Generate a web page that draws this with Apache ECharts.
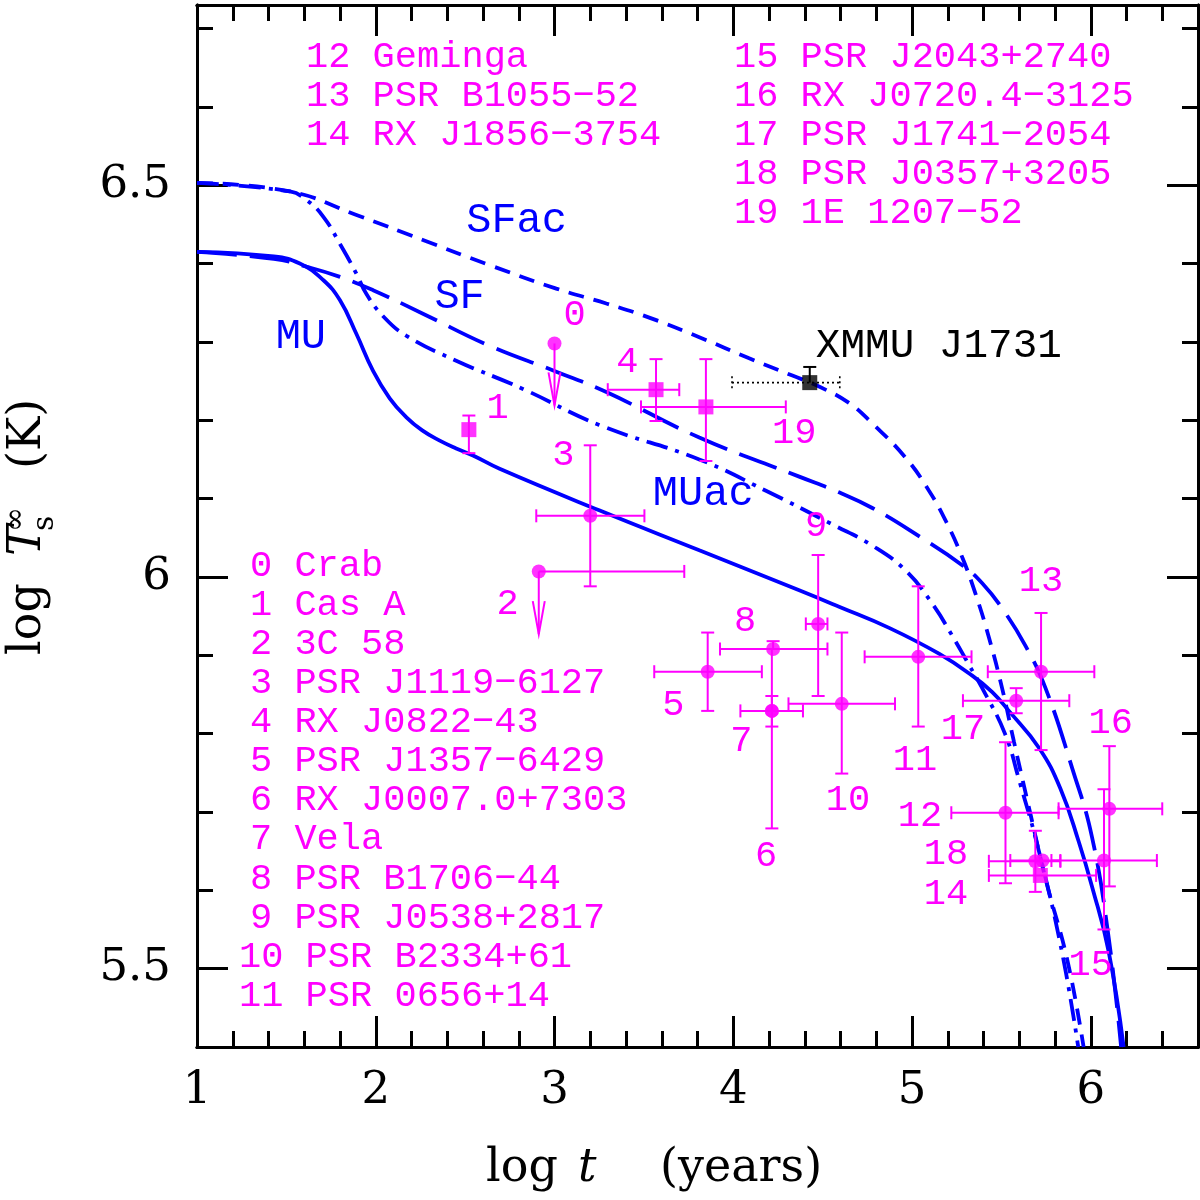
<!DOCTYPE html>
<html><head><meta charset="utf-8">
<script src="https://cdn.jsdelivr.net/npm/echarts@6/dist/echarts.min.js"></script>
<style>html,body{margin:0;padding:0;background:#fff}#c{width:1200px;height:1200px}</style>
</head><body><div id="c"></div>
<script>
// ---------- axis ticks ----------
const xMajorTicks = [1, 2, 3, 4, 5, 6];
const xMinorTicks = [1.2, 1.4, 1.6, 1.8, 2.2, 2.4, 2.6, 2.8, 3.2, 3.4, 3.6, 3.8, 4.2, 4.4, 4.6, 4.8, 5.2, 5.4, 5.6, 5.8, 6.2, 6.4];
const yMajorTicks = [5.5, 6, 6.5];
const yMinorTicks = [5.6, 5.7, 5.8, 5.9, 6.1, 6.2, 6.3, 6.4, 6.6, 6.7];

// ---------- cooling curves [log t, log Ts] ----------
const curveMU = [[1.0,6.415],[1.43,6.409],[1.575,6.40],[1.706,6.379],[1.8,6.353],[1.892,6.31],[1.985,6.263],[2.078,6.228],[2.17,6.204],[2.26,6.187],[2.358,6.174],[2.45,6.164],[2.544,6.155],[2.693,6.138],[3.25,6.085],[3.81,6.034],[4.369,5.983],[4.592,5.962],[4.872,5.935],[5.151,5.902],[5.337,5.874],[5.449,5.853],[5.542,5.829],[5.71,5.782],[5.83,5.73],[5.933,5.662],[6.007,5.605],[6.1,5.522],[6.184,5.40]];
const curveSF = [[1.0,6.415],[1.43,6.406],[1.613,6.396],[1.8,6.383],[1.985,6.366],[2.264,6.336],[2.637,6.295],[3.01,6.262],[3.29,6.236],[3.81,6.178],[4.369,6.128],[4.592,6.108],[4.778,6.088],[5.039,6.052],[5.281,6.015],[5.393,5.992],[5.504,5.96],[5.635,5.912],[5.747,5.858],[5.896,5.756],[6.007,5.668],[6.1,5.54],[6.17,5.40]];
const curveSFac = [[1.0,6.503],[1.52,6.492],[1.892,6.462],[2.264,6.43],[2.637,6.398],[3.01,6.368],[3.29,6.349],[3.53,6.331],[3.81,6.306],[4.089,6.279],[4.331,6.257],[4.48,6.243],[4.648,6.222],[4.778,6.196],[4.965,6.152],[5.095,6.11],[5.188,6.072],[5.281,6.025],[5.356,5.978],[5.43,5.923],[5.504,5.858],[5.57,5.79],[5.66,5.70],[5.75,5.612],[5.87,5.51],[5.96,5.40]];
const curveMUac = [[1.0,6.503],[1.52,6.492],[1.613,6.481],[1.706,6.46],[1.8,6.425],[1.892,6.387],[1.948,6.361],[2.04,6.333],[2.17,6.308],[2.45,6.276],[2.823,6.24],[3.25,6.194],[3.81,6.15],[4.183,6.11],[4.555,6.067],[4.778,6.04],[4.965,6.008],[5.113,5.966],[5.225,5.925],[5.318,5.888],[5.393,5.858],[5.52,5.80],[5.6,5.74],[5.71,5.65],[5.84,5.52],[5.93,5.40]];

// ---------- observed neutron stars (0..19, last = second point near 18) ----------
const starX  = [3.0, 2.521, 2.912, 3.2, 3.568, 3.857, 4.216, 4.216, 4.223, 4.475, 4.607, 5.035, 5.523, 5.722, 5.718, 6.074, 6.104, 5.583, 5.69, 3.847, 5.73];
const starY  = [6.298, 6.188, 6.007, 6.078, 6.239, 5.879, 5.829, 5.829, 5.908, 5.94, 5.838, 5.898, 5.699, 5.879, 5.619, 5.638, 5.704, 5.842, 5.637, 6.217, 5.638];
const starXLo = [null, null, null, 2.898, 3.298, 3.558, null, 4.04, 3.926, 4.406, 4.309, 4.735, 5.22, 5.424, 5.43, 5.78, 5.82, 5.285, 5.43, 3.484, 5.55];
const starXHi = [null, null, 3.726, 3.503, 3.698, 4.16, null, 4.39, 4.527, 4.527, 4.905, 5.333, 5.82, 6.02, 6.03, 6.37, 6.40, 5.88, 5.83, 4.294, 5.83];
const starYLo = [null, 6.158, null, 5.988, 6.199, 5.829, 5.679, 5.809, null, 5.848, 5.749, 5.809, 5.609, 5.779, null, 5.55, 5.605, 5.826, 5.598, 6.148, null];
const starYHi = [null, 6.206, null, 6.168, 6.278, 5.929, 5.908, 5.848, 5.918, 6.028, 5.929, 5.988, 5.789, 5.954, null, 5.729, 5.784, 5.858, 5.676, 6.278, null];
const starMarker = ['circle','square','circle','circle','square','circle','circle','circle','circle','circle','circle','circle','circle','circle','square','circle','circle','circle','circle','square','circle'];
const upperLimitTip = [6.219, null, 5.927, null, null, null, null, null, null, null, null, null, null, null, null, null, null, null, null, null, null];

// XMMU J1731
const xmmuX = [4.428];
const xmmuY = [6.248];
const xmmuXLo = [3.993];
const xmmuXHi = [4.596];
const xmmuYHi = [6.268];

// ---------- texts ----------
const numLabelText = ['0','1','2','3','4','5','6','7','8','9','10','11','12','13','14','15','16','17','18','19'];
const numLabelX = [3.112, 2.682, 2.737, 3.050, 3.408, 3.665, 4.184, 4.045, 4.067, 4.464, 4.642, 5.017, 5.045, 5.721, 5.190, 6.0, 6.112, 5.285, 5.190, 4.341];
const numLabelY = [6.334, 6.215, 5.965, 6.155, 6.274, 5.836, 5.643, 5.790, 5.944, 6.065, 5.715, 5.766, 5.694, 5.995, 5.595, 5.505, 5.813, 5.806, 5.646, 6.184];

const curveLabelText = ['SFac', 'SF', 'MU', 'MUac'];
const curveLabelX = [2.788, 2.469, 1.581, 3.832];
const curveLabelY = [6.455, 6.357, 6.306, 6.106];

const listLeftBottom = ['0 Crab','1 Cas A','2 3C 58','3 PSR J1119\u22126127','4 RX J0822\u221243','5 PSR J1357\u22126429','6 RX J0007.0+7303','7 Vela','8 PSR B1706\u221244','9 PSR J0538+2817','10 PSR B2334+61','11 PSR 0656+14'];
const listLeftTop = ['12 Geminga','13 PSR B1055\u221252','14 RX J1856\u22123754'];
const listRightTop = ['15 PSR J2043+2740','16 RX J0720.4\u22123125','17 PSR J1741\u22122054','18 PSR J0357+3205','19 1E 1207\u221252'];

// ---------- styles ----------
const PINK = '#ff00ff';
const BLUE = '#0000ff';
const MONO = "'Liberation Mono', 'DejaVu Sans Mono', monospace";
const SERIF = "'DejaVu Serif', serif";
const CAP = 6.5;

const chart = echarts.init(document.getElementById('c'), null, {renderer: 'canvas'});

function mkX(pos, ticks, len, labels) {
  return {
    type: 'value', min: 1, max: 6.6, position: pos,
    axisLine: {show: true, onZero: false, lineStyle: {color: '#000', width: 3}},
    splitLine: {show: false},
    axisTick: {show: true, inside: true, length: len, customValues: ticks, lineStyle: {color: '#000', width: 3}},
    axisLabel: labels ? {show: true, customValues: ticks, margin: 22, color: '#000', fontFamily: SERIF, fontSize: 45, formatter: v => String(v)} : {show: false}
  };
}
function mkY(pos, ticks, len, labels) {
  return {
    type: 'value', min: 5.4, max: 6.73, position: pos,
    axisLine: {show: true, onZero: false, lineStyle: {color: '#000', width: 3}},
    splitLine: {show: false},
    axisTick: {show: true, inside: true, length: len, customValues: ticks, lineStyle: {color: '#000', width: 3}},
    axisLabel: labels ? {show: true, customValues: ticks, margin: 26, color: '#000', fontFamily: SERIF, fontSize: 45, formatter: v => String(v)} : {show: false}
  };
}

function seg(ch, a, b, st) {
  ch.push({type: 'line', shape: {x1: a[0], y1: a[1], x2: b[0], y2: b[1]}, style: st});
}

function errRender(params, api) {
  const i = api.value(2);
  const x = starX[i], y = starY[i];
  const c = api.coord([x, y]);
  const st = {stroke: PINK, lineWidth: 2, fill: null};
  const ch = [];
  if (starXLo[i] != null || starXHi[i] != null) {
    const a = starXLo[i] != null ? api.coord([starXLo[i], y]) : c;
    const b = starXHi[i] != null ? api.coord([starXHi[i], y]) : c;
    seg(ch, a, b, st);
    if (starXLo[i] != null) seg(ch, [a[0], a[1] - CAP], [a[0], a[1] + CAP], st);
    if (starXHi[i] != null) seg(ch, [b[0], b[1] - CAP], [b[0], b[1] + CAP], st);
  }
  if (starYLo[i] != null || starYHi[i] != null) {
    const a = starYLo[i] != null ? api.coord([x, starYLo[i]]) : c;
    const b = starYHi[i] != null ? api.coord([x, starYHi[i]]) : c;
    seg(ch, a, b, st);
    if (starYLo[i] != null) seg(ch, [a[0] - CAP, a[1]], [a[0] + CAP, a[1]], st);
    if (starYHi[i] != null) seg(ch, [b[0] - CAP, b[1]], [b[0] + CAP, b[1]], st);
  }
  if (upperLimitTip[i] != null) {
    const t = api.coord([x, upperLimitTip[i]]);
    seg(ch, c, t, st);
    ch.push({type: 'polyline', shape: {points: [[t[0] - 6, t[1] - 33], [t[0], t[1]], [t[0] + 6, t[1] - 33]]}, style: st});
  }
  return {type: 'group', children: ch};
}

function xmmuRender(params, api) {
  const i = api.value(2);
  const c = api.coord([xmmuX[i], xmmuY[i]]);
  const a = api.coord([xmmuXLo[i], xmmuY[i]]);
  const b = api.coord([xmmuXHi[i], xmmuY[i]]);
  const u = api.coord([xmmuX[i], xmmuYHi[i]]);
  const dot = {stroke: '#000', lineWidth: 1.6, lineDash: [2, 3], fill: null};
  const sol = {stroke: '#000', lineWidth: 2, fill: null};
  const ch = [];
  seg(ch, a, b, dot);
  seg(ch, [a[0], a[1] - CAP], [a[0], a[1] + CAP], dot);
  seg(ch, [b[0], b[1] - CAP], [b[0], b[1] + CAP], dot);
  seg(ch, c, u, sol);
  seg(ch, [u[0] - CAP, u[1]], [u[0] + CAP, u[1]], sol);
  return {type: 'group', children: ch};
}

function textRender(texts, font, color, align) {
  return function (params, api) {
    const i = api.value(2);
    const p = api.coord([api.value(0), api.value(1)]);
    return {type: 'text', x: p[0], y: p[1],
      style: {text: texts[i], font: font, fill: color, align: align || 'center', verticalAlign: 'middle'}};
  };
}

const circleData = [], squareData = [];
starX.forEach((x, i) => { (starMarker[i] === 'square' ? squareData : circleData).push([x, starY[i]]); });

function curve(name, data, type) {
  return {name, type: 'line', data, xAxisIndex: 0, yAxisIndex: 0, showSymbol: false, symbol: 'none',
    smooth: 0.45, silent: true, z: 2,
    lineStyle: {color: BLUE, width: 3.8, type: type}};
}

// graphic texts
const graphics = [];
listLeftBottom.forEach((t, k) => {
  graphics.push({type: 'text', x: t.split(' ')[0].length > 1 ? 239 : 250, y: 566 + 39.1 * k,
    style: {text: t, font: '37px ' + MONO, fill: PINK, align: 'left', verticalAlign: 'middle'}});
});
listLeftTop.forEach((t, k) => {
  graphics.push({type: 'text', x: 306, y: 57 + 39 * k,
    style: {text: t, font: '37px ' + MONO, fill: PINK, align: 'left', verticalAlign: 'middle'}});
});
listRightTop.forEach((t, k) => {
  graphics.push({type: 'text', x: 734, y: 57 + 39 * k,
    style: {text: t, font: '37px ' + MONO, fill: PINK, align: 'left', verticalAlign: 'middle'}});
});
// axis titles
const R = Math.PI / 2;
graphics.push(
  {type: 'text', x: 486, y: 1169, style: {text: 'log', font: '46px ' + SERIF, fill: '#000', align: 'left', verticalAlign: 'middle'}},
  {type: 'text', x: 578, y: 1169, style: {text: 't', font: 'italic 46px ' + SERIF, fill: '#000', align: 'left', verticalAlign: 'middle'}},
  {type: 'text', x: 660, y: 1169, style: {text: '(years)', font: '46px ' + SERIF, fill: '#000', align: 'left', verticalAlign: 'middle'}},
  {type: 'text', x: 28, y: 655, rotation: R, style: {text: 'log', font: '46px ' + SERIF, fill: '#000', align: 'left', verticalAlign: 'middle'}},
  {type: 'text', x: 28, y: 556, rotation: R, style: {text: 'T', font: 'italic 46px ' + SERIF, fill: '#000', align: 'left', verticalAlign: 'middle'}},
  {type: 'text', x: 45, y: 531, rotation: R, style: {text: 's', font: '30px ' + SERIF, fill: '#000', align: 'left', verticalAlign: 'middle'}},
  {type: 'text', x: 16, y: 532, rotation: R, style: {text: '\u221e', font: '30px ' + SERIF, fill: '#000', align: 'left', verticalAlign: 'middle'}},
  {type: 'text', x: 28, y: 469, rotation: R, style: {text: '(K)', font: '46px ' + SERIF, fill: '#000', align: 'left', verticalAlign: 'middle'}}
);

const option = {
  animation: false,
  backgroundColor: '#fff',
  grid: {left: 197, right: 2, top: 5, bottom: 153, containLabel: false, outerBoundsMode: 'none'},
  xAxis: [mkX('bottom', xMajorTicks, 31, true), mkX('bottom', xMinorTicks, 16, false), mkX('top', xMajorTicks, 31, false), mkX('top', xMinorTicks, 16, false)],
  yAxis: [mkY('left', yMajorTicks, 31, true), mkY('left', yMinorTicks, 16, false), mkY('right', yMajorTicks, 31, false), mkY('right', yMinorTicks, 16, false)],
  graphic: graphics,
  series: [
    curve('MU', curveMU, 'solid'),
    curve('SF', curveSF, [40, 13]),
    curve('SFac', curveSFac, [16, 10]),
    curve('MUac', curveMUac, [22, 8, 4, 8]),
    {type: 'custom', name: 'errors', xAxisIndex: 0, yAxisIndex: 0, z: 3, silent: true,
      data: starX.map((x, i) => [x, starY[i], i]), encode: {x: 0, y: 1}, renderItem: errRender},
    {type: 'custom', name: 'xmmuErr', xAxisIndex: 0, yAxisIndex: 0, z: 3, silent: true,
      data: xmmuX.map((x, i) => [x, xmmuY[i], i]), encode: {x: 0, y: 1}, renderItem: xmmuRender},
    {type: 'scatter', name: 'circles', data: circleData, symbol: 'circle', symbolSize: 14, z: 4, silent: true,
      itemStyle: {color: PINK}},
    {type: 'scatter', name: 'squares', data: squareData, symbol: 'rect', symbolSize: 15, z: 4, silent: true,
      itemStyle: {color: PINK}},
    {type: 'scatter', name: 'XMMU J1731', data: xmmuX.map((x, i) => [x, xmmuY[i]]), symbol: 'rect', symbolSize: 15, z: 4, silent: true,
      itemStyle: {color: '#000'}},
    {type: 'custom', name: 'numLabels', z: 5, silent: true, clip: false,
      data: numLabelX.map((x, i) => [x, numLabelY[i], i]), encode: {x: 0, y: 1},
      renderItem: textRender(numLabelText, '37px ' + MONO, PINK)},
    {type: 'custom', name: 'curveLabels', z: 5, silent: true, clip: false,
      data: curveLabelX.map((x, i) => [x, curveLabelY[i], i]), encode: {x: 0, y: 1},
      renderItem: textRender(curveLabelText, '42px ' + MONO, BLUE)},
    {type: 'custom', name: 'xmmuLabel', z: 5, silent: true, clip: false,
      data: [[4.462, 6.294, 0]], encode: {x: 0, y: 1},
      renderItem: textRender(['XMMU J1731'], '41px ' + MONO, '#000', 'left')}
  ]
};
chart.setOption(option);
</script>
</body></html>
